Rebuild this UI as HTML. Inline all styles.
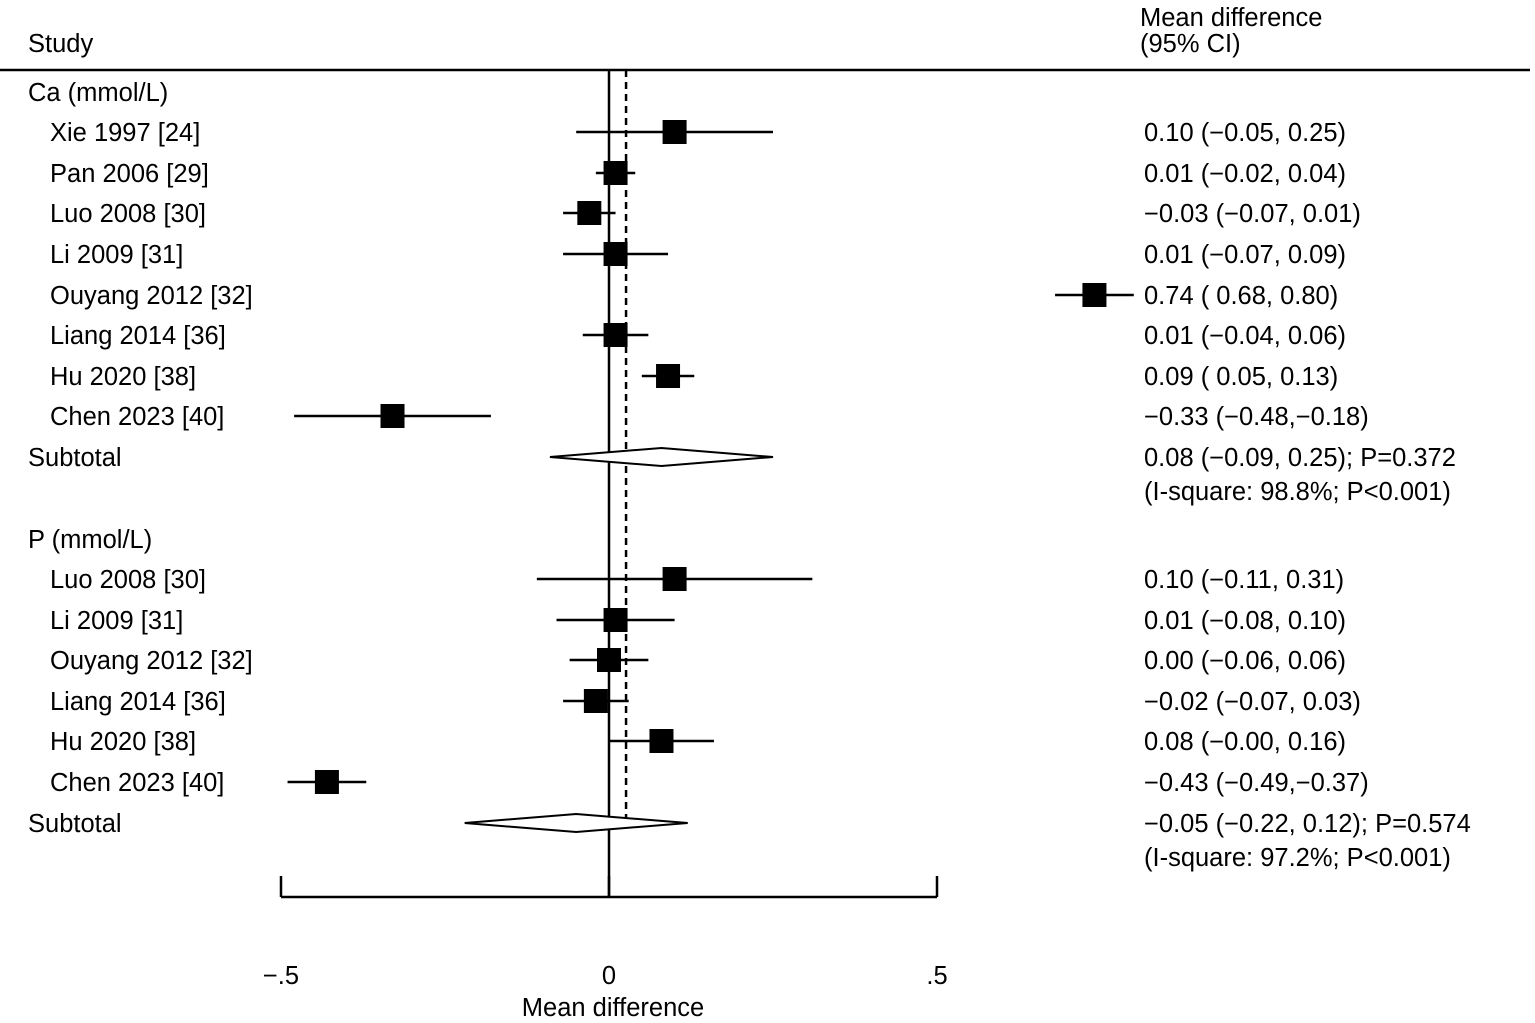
<!DOCTYPE html>
<html><head><meta charset="utf-8"><style>
body{margin:0;background:#fff}
svg{display:block;font-family:"Liberation Sans",sans-serif;font-size:25.5px}
</style></head><body>
<svg id="c" width="1535" height="1023">
<line x1="0" y1="70" x2="1530" y2="70" stroke="#000" stroke-width="2.5"/>
<text x="28" y="52">Study</text>
<text x="1140" y="26">Mean difference</text>
<text x="1140" y="52">(95% CI)</text>
<g id="g"></g>
</svg>
<script>
const labels=["Ca (mmol/L)","Xie 1997 [24]","Pan 2006 [29]","Luo 2008 [30]","Li 2009 [31]","Ouyang 2012 [32]","Liang 2014 [36]","Hu 2020 [38]","Chen 2023 [40]","Subtotal","","","P (mmol/L)","Luo 2008 [30]","Li 2009 [31]","Ouyang 2012 [32]","Liang 2014 [36]","Hu 2020 [38]","Chen 2023 [40]","Subtotal",""];
const kinds=["h","s","s","s","s","s","s","s","s","d","n","gap","h","s","s","s","s","s","s","d","n"];
const est=[null,0.10,0.01,-0.03,0.01,0.74,0.01,0.09,-0.33,0.08,null,null,null,0.10,0.01,0.00,-0.02,0.08,-0.43,-0.05,null];
const lo=[null,-0.05,-0.02,-0.07,-0.07,0.68,-0.04,0.05,-0.48,-0.09,null,null,null,-0.11,-0.08,-0.06,-0.07,-0.00,-0.49,-0.22,null];
const hi=[null,0.25,0.04,0.01,0.09,0.80,0.06,0.13,-0.18,0.25,null,null,null,0.31,0.10,0.06,0.03,0.16,-0.37,0.12,null];
const rightText=["","0.10 (\u22120.05, 0.25)","0.01 (\u22120.02, 0.04)","\u22120.03 (\u22120.07, 0.01)","0.01 (\u22120.07, 0.09)","0.74 ( 0.68, 0.80)","0.01 (\u22120.04, 0.06)","0.09 ( 0.05, 0.13)","\u22120.33 (\u22120.48,\u22120.18)","0.08 (\u22120.09, 0.25); P=0.372","(I-square: 98.8%; P<0.001)","","","0.10 (\u22120.11, 0.31)","0.01 (\u22120.08, 0.10)","0.00 (\u22120.06, 0.06)","\u22120.02 (\u22120.07, 0.03)","0.08 (\u22120.00, 0.16)","\u22120.43 (\u22120.49,\u22120.37)","\u22120.05 (\u22120.22, 0.12); P=0.574","(I-square: 97.2%; P<0.001)"];
const rowY=[92,132,173,213,254,295,335,376,416,457,491,515,539,579,620,660,701,741,782,823,857];
const ticks=[-0.5,0,0.5];
const tickLabels=["\u2212.5","0",".5"];
const overall=0.026;
const X=v=>609+v*656;
const g=document.getElementById('g');
const NS="http://www.w3.org/2000/svg";
function mk(t,a){const e=document.createElementNS(NS,t);for(const k in a)e.setAttribute(k,a[k]);g.appendChild(e);return e;}
let e;
e=mk('line',{x1:X(0),y1:70,x2:X(0),y2:897,stroke:'#000','stroke-width':2.5});


e=mk('line',{x1:X(overall),y1:70,x2:X(overall),y2:823,stroke:'#000','stroke-width':2.5,'stroke-dasharray':'7,5'});


e=mk('line',{x1:X(-0.5),y1:897,x2:X(0.5),y2:897,stroke:'#000','stroke-width':2.5});


ticks.forEach((t,i)=>{
 e=mk('line',{x1:X(t),y1:876,x2:X(t),y2:897,stroke:'#000','stroke-width':2.5});
 
 
 e=mk('text',{x:X(t),y:984,'text-anchor':'middle'});e.textContent=tickLabels[i];
 
 
});
e=mk('text',{x:X(0)+4,y:1016,'text-anchor':'middle'});e.textContent="Mean difference";


labels.forEach((l,i)=>{
 const y=rowY[i],k=kinds[i];
 if(l){e=mk('text',{x:k==='s'?50:28,y:y+9});e.textContent=l;
  
  }
 if(rightText[i]){e=mk('text',{x:1144,y:y+9});e.textContent=rightText[i];
  
  }
 if(k==='s'){
  e=mk('line',{x1:X(lo[i]),y1:y,x2:X(hi[i]),y2:y,stroke:'#000','stroke-width':2.5});
  
  
  e=mk('rect',{x:X(est[i])-12,y:y-12,width:24,height:24,fill:'#000'});
  
  
 }
 if(k==='d'){
  e=mk('polygon',{points:`${X(lo[i])},${y} ${X(est[i])},${y-9} ${X(hi[i])},${y} ${X(est[i])},${y+9}`,fill:'#fff',stroke:'#000','stroke-width':2});
  
  
 }
});
</script>
</body></html>
